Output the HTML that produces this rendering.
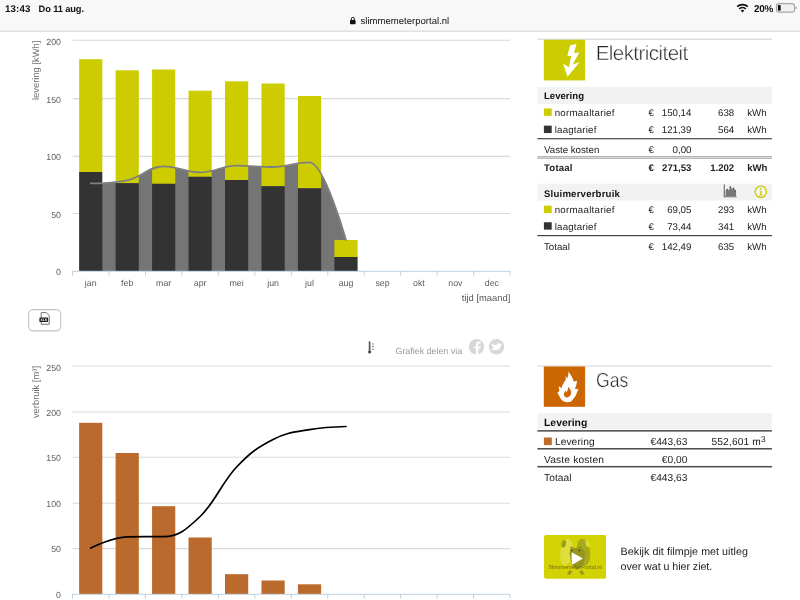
<!DOCTYPE html>
<html lang="nl">
<head>
<meta charset="utf-8">
<title>Slimmemeterportal</title>
<style>
html,body{margin:0;padding:0;background:#fff;}
body{width:800px;height:600px;overflow:hidden;position:relative;font-family:"Liberation Sans",sans-serif;text-rendering:geometricPrecision;}
.t{position:absolute;white-space:nowrap;}
.lt{-webkit-text-stroke:0.45px #fff;}
.b{position:absolute;}
.chart{position:absolute;overflow:hidden;font-family:"Liberation Sans",sans-serif;}
.t sup{font-size:82%;line-height:0;vertical-align:baseline;position:relative;top:-0.36em;letter-spacing:0;}
</style>
</head>
<body>
<svg class="chart" style="left:0;top:0" width="800" height="600" viewBox="0 0 800 600">
<rect x="0" y="0" width="800" height="30.4" fill="#f8f8f8"/>
<rect x="0" y="30.4" width="800" height="1.5" fill="#e0e0e0"/>
<rect x="28.55" y="309.65" width="32.2" height="21.2" fill="#fff" rx="4.6" stroke="#c4c4c4" stroke-width="1.1"/>
<rect x="537.4" y="38.7" width="234.5" height="1.1" fill="#d4d4d4"/>
<rect x="543.8" y="39.8" width="41.3" height="40.6" fill="#cbcb00"/>
<rect x="537.4" y="87" width="234.5" height="16.8" fill="#f2f2f2"/>
<rect x="543.9" y="108.45" width="7.8" height="7.4" fill="#cccc00"/>
<rect x="543.9" y="125.65" width="7.8" height="7.4" fill="#333"/>
<rect x="537.4" y="138.1" width="234.5" height="1.2" fill="#444"/>
<rect x="537.4" y="156" width="234.5" height="2.9" fill="#b2b2b2"/>
<rect x="537.4" y="157.05" width="234.5" height="0.85" fill="#e0e0e0"/>
<rect x="537.4" y="183.7" width="234.5" height="16.8" fill="#f2f2f2"/>
<rect x="543.9" y="205.65" width="7.8" height="7.4" fill="#cccc00"/>
<rect x="543.9" y="222.25" width="7.8" height="7.4" fill="#333"/>
<rect x="537.4" y="235" width="234.5" height="1.2" fill="#444"/>
<rect x="537.4" y="365.35" width="234.5" height="1.3" fill="#dedede"/>
<rect x="543.8" y="366.5" width="41.3" height="40.3" fill="#cc6600"/>
<rect x="537.4" y="413.3" width="234.5" height="15.9" fill="#f2f2f2"/>
<rect x="537.4" y="430.1" width="234.5" height="1.5" fill="#4a4a4a"/>
<rect x="543.9" y="437.5" width="7.9" height="7.6" fill="#bf6b2e"/>
<rect x="537.4" y="448.05" width="234.5" height="1.5" fill="#4a4a4a"/>
<rect x="537.4" y="465.95" width="234.5" height="1.5" fill="#4a4a4a"/>
</svg>
<header aria-label="Statusbalk">
<span class="t" style="top:3px;font-size:9.7px;line-height:13px;color:#111;font-weight:700;left:4.90px;letter-spacing:0.2px;">13:43</span>
<span class="t" style="top:3px;font-size:9.3px;line-height:13px;color:#111;font-weight:700;left:38.60px;letter-spacing:-0.12px;">Do 11 aug.</span>
<span class="t" style="top:15px;font-size:9.5px;line-height:13px;color:#111;left:360.50px;letter-spacing:0.03px;">slimmemeterportal.nl</span>
<svg class="chart" style="left:349px;top:16px" width="8" height="9" viewBox="0 0 8 9"><rect x="1" y="4" width="5.6" height="4.3" rx="0.8" fill="#111"/><path d="M2.3 4.2V2.9a1.5 1.5 0 0 1 3 0V4.2" fill="none" stroke="#111" stroke-width="1"/></svg>
<svg class="chart" style="left:736px;top:3px" width="13" height="10" viewBox="0 0 13 10"><g fill="none" stroke="#111" stroke-width="1.750" stroke-linecap="butt"><path d="M1.200 3.700a7.600 7.600 0 0 1 10.600 0"/><path d="M3.200 5.900a4.700 4.700 0 0 1 6.600 0"/></g><path d="M6.500 9.500L4.700 7.600a2.600 2.600 0 0 1 3.600 0z" fill="#111"/></svg>
<span class="t" style="top:3px;font-size:9.9px;line-height:13px;color:#111;font-weight:700;left:754.00px;letter-spacing:-0.25px;">20%</span>
<svg class="chart" style="left:775px;top:2px" width="23" height="13" viewBox="0 0 23 13"><rect x="1.400" y="1.650" width="18.100" height="8.500" rx="2.400" fill="#f1f1f1" stroke="#a6a6a6" stroke-width="1.100"/><path d="M20.400 4.300v3.200c1.900-.4 1.900-2.800 0-3.200z" fill="#a6a6a6"/><rect x="2.900" y="3.100" width="2.800" height="5.600" rx="0.900" fill="#111"/></svg>
</header>
<main>
<section aria-label="Grafiek elektriciteit">
<svg class="chart" style="left:0;top:0" width="530" height="306" viewBox="0 0 530 306">
<path d="M72.5 40.30H510.1" stroke="#dadada" stroke-width="1.1"/>
<path d="M72.5 98.60H510.1" stroke="#dadada" stroke-width="1.1"/>
<path d="M72.5 156.40H510.1" stroke="#dadada" stroke-width="1.1"/>
<path d="M72.5 213.55H510.1" stroke="#dadada" stroke-width="1.1"/>
<path d="M90.73 183.40 C90.73 183.40 112.61 183.40 127.20 180.30 C141.79 177.20 149.08 166.30 163.67 166.30 C178.25 166.30 185.55 172.40 200.13 172.40 C214.72 172.40 222.01 165.60 236.60 165.60 C251.19 165.60 258.48 167.00 273.07 167.00 C287.65 167.00 294.95 162.40 309.53 162.40 C324.12 162.40 346.00 240.00 346.00 240.00 L346.00 271.00 L90.73 271.00 Z" fill="#757575"/>
<rect x="79.13" y="59.20" width="23.20" height="112.80" fill="#cccc00"/>
<rect x="79.13" y="172.00" width="23.20" height="99.00" fill="#333333"/>
<rect x="115.60" y="70.30" width="23.20" height="112.90" fill="#cccc00"/>
<rect x="115.60" y="183.20" width="23.20" height="87.80" fill="#333333"/>
<rect x="152.07" y="69.50" width="23.20" height="114.30" fill="#cccc00"/>
<rect x="152.07" y="183.80" width="23.20" height="87.20" fill="#333333"/>
<rect x="188.53" y="90.70" width="23.20" height="86.10" fill="#cccc00"/>
<rect x="188.53" y="176.80" width="23.20" height="94.20" fill="#333333"/>
<rect x="225.00" y="81.30" width="23.20" height="98.70" fill="#cccc00"/>
<rect x="225.00" y="180.00" width="23.20" height="91.00" fill="#333333"/>
<rect x="261.47" y="83.50" width="23.20" height="102.70" fill="#cccc00"/>
<rect x="261.47" y="186.20" width="23.20" height="84.80" fill="#333333"/>
<rect x="297.93" y="96.00" width="23.20" height="92.30" fill="#cccc00"/>
<rect x="297.93" y="188.30" width="23.20" height="82.70" fill="#333333"/>
<rect x="334.40" y="240.00" width="23.20" height="17.00" fill="#cccc00"/>
<rect x="334.40" y="257.00" width="23.20" height="14.00" fill="#333333"/>
<path d="M90.73 183.40 C90.73 183.40 112.61 183.40 127.20 180.30 C141.79 177.20 149.08 166.30 163.67 166.30 C178.25 166.30 185.55 172.40 200.13 172.40 C214.72 172.40 222.01 165.60 236.60 165.60 C251.19 165.60 258.48 167.00 273.07 167.00 C287.65 167.00 294.95 162.40 309.53 162.40 C324.12 162.40 346.00 240.00 346.00 240.00" fill="none" stroke="#808080" stroke-width="1.800" stroke-linecap="round"/>
<path d="M72.5 271.30H510.1" stroke="#c0d0e0" stroke-width="1"/>
<path d="M72.50 271.00v4.6M108.97 271.00v4.6M145.43 271.00v4.6M181.90 271.00v4.6M218.37 271.00v4.6M254.83 271.00v4.6M291.30 271.00v4.6M327.77 271.00v4.6M364.23 271.00v4.6M400.70 271.00v4.6M437.17 271.00v4.6M473.63 271.00v4.6M510.10 271.00v4.6" stroke="#c0d0e0" stroke-width="1" fill="none"/>
<g font-size="8.8" fill="#5c5c5c" text-anchor="middle">
<text x="90.73" y="285.6">jan</text>
<text x="127.20" y="285.6">feb</text>
<text x="163.67" y="285.6">mar</text>
<text x="200.13" y="285.6">apr</text>
<text x="236.60" y="285.6">mei</text>
<text x="273.07" y="285.6">jun</text>
<text x="309.53" y="285.6">jul</text>
<text x="346.00" y="285.6">aug</text>
<text x="382.47" y="285.6">sep</text>
<text x="418.93" y="285.6">okt</text>
<text x="455.40" y="285.6">nov</text>
<text x="491.87" y="285.6">dec</text>
</g>
<g font-size="8.8" fill="#5c5c5c" text-anchor="end">
<text x="61" y="45">200</text>
<text x="61" y="103">150</text>
<text x="61" y="160">100</text>
<text x="61" y="218">50</text>
<text x="61" y="275">0</text>
</g>
<text x="510.3" y="301" font-size="9.4" fill="#555" text-anchor="end">tijd [maand]</text>
<text transform="translate(39 40.6) rotate(-90)" font-size="9.4" fill="#707070" text-anchor="end">levering [kWh]</text>
</svg>
</section>
<nav aria-label="Grafiek opties">
<svg class="chart" style="left:38px;top:311px" width="14" height="16" viewBox="0 0 14 16"><path d="M3.2 1.6h5.2l2.8 2.8v8.900H3.2z" fill="#fff" stroke="#666" stroke-width="0.9" stroke-linejoin="round"/><rect x="1.400" y="6.400" width="8.700" height="4.700" rx="0.6" fill="#222"/><text x="5.750" y="10" font-size="3.400" font-weight="700" fill="#fff" text-anchor="middle">XLS</text></svg>
<svg class="chart" style="left:366px;top:340px" width="10" height="16" viewBox="0 0 10 16"><path d="M3.6 1.400v10" stroke="#555" stroke-width="1.700"/><circle cx="3.6" cy="12" r="1.600" fill="#4a4a4a"/><path d="M6 4h2M6 6.500h2M6 9.200h2" stroke="#888" stroke-width="1"/></svg>
<span class="t" style="top:345px;font-size:8.9px;line-height:12px;color:#999;left:395.50px;letter-spacing:0;">Grafiek delen via</span>
<svg class="chart" style="left:468px;top:338px" width="40" height="18" viewBox="0 0 40 18"><circle cx="8.500" cy="8.700" r="7.700" fill="#d8d8d8"/><path d="M8.100 16.400V10.400H6.300V8.600H8.100V6.600a3.100 3.100 0 0 1 3.100-3.100h1.500v1.900h-1.100a1.300 1.300 0 0 0-1.300 1.300V8.600h2.400l-.3 1.800H10.300v6z" fill="#fff"/><circle cx="28.500" cy="8.700" r="7.700" fill="#d8d8d8"/><path transform="translate(28.500 9) scale(1.380 1.050) translate(-28.500 -9)" d="M24.400 11.400c2.900 1.600 7.300.4 7.600-4.300l.9-1-1.100.2c-.8-1.500-3.300-1-3.200.9-1.400 0-2.500-.6-3.400-1.600-.5 1.100 0 1.900.6 2.400l-.8-.1c.1.900.7 1.500 1.600 1.800-.6 1-1.400 1.500-2.200 1.700z" fill="#fff"/></svg>
</nav>
<section aria-label="Grafiek gas">
<svg class="chart" style="left:0;top:340px" width="530" height="260" viewBox="0 340 530 260">
<path d="M72.5 366.00H510.1" stroke="#dadada" stroke-width="1.1"/>
<path d="M72.5 412.00H510.1" stroke="#dadada" stroke-width="1.1"/>
<path d="M72.5 457.30H510.1" stroke="#dadada" stroke-width="1.1"/>
<path d="M72.5 503.20H510.1" stroke="#dadada" stroke-width="1.1"/>
<path d="M72.5 548.60H510.1" stroke="#dadada" stroke-width="1.1"/>
<rect x="79.13" y="422.80" width="23.20" height="171.20" fill="#ba6a2c"/>
<rect x="115.60" y="453.00" width="23.20" height="141.00" fill="#ba6a2c"/>
<rect x="152.07" y="506.20" width="23.20" height="87.80" fill="#ba6a2c"/>
<rect x="188.53" y="537.50" width="23.20" height="56.50" fill="#ba6a2c"/>
<rect x="225.00" y="574.20" width="23.20" height="19.80" fill="#ba6a2c"/>
<rect x="261.47" y="580.50" width="23.20" height="13.50" fill="#ba6a2c"/>
<rect x="297.93" y="584.30" width="23.20" height="9.70" fill="#ba6a2c"/>
<path d="M72.5 594.30H510.1" stroke="#c0d0e0" stroke-width="1"/>
<path d="M72.50 594.00v4.6M108.97 594.00v4.6M145.43 594.00v4.6M181.90 594.00v4.6M218.37 594.00v4.6M254.83 594.00v4.6M291.30 594.00v4.6M327.77 594.00v4.6M364.23 594.00v4.6M400.70 594.00v4.6M437.17 594.00v4.6M473.63 594.00v4.6M510.10 594.00v4.6" stroke="#c0d0e0" stroke-width="1" fill="none"/>
<path d="M90.73 548.00 C90.73 548.00 112.61 537.00 127.20 536.80 C141.79 536.60 149.08 536.80 163.67 536.60 C178.25 536.40 185.55 530.42 200.13 516.50 C214.72 502.58 222.01 482.40 236.60 467.00 C251.19 451.60 258.48 446.98 273.07 439.50 C287.65 432.02 294.95 432.20 309.53 429.60 C324.12 427.00 346.00 426.50 346.00 426.50" fill="none" stroke="#000" stroke-width="1.700" stroke-linecap="round"/>
<g font-size="8.8" fill="#5c5c5c" text-anchor="end">
<text x="61" y="371">250</text>
<text x="61" y="416">200</text>
<text x="61" y="461">150</text>
<text x="61" y="507">100</text>
<text x="61" y="552">50</text>
<text x="61" y="598">0</text>
</g>
<text transform="translate(39 366) rotate(-90)" font-size="9.4" fill="#707070" text-anchor="end">verbruik [m³]</text>
</svg>
</section>
<section aria-label="Elektriciteit">
<svg class="chart" style="left:543.8px;top:39.8px" width="41.3" height="40.6" viewBox="0 0 41.3 40.6"><path d="M26.250 5.200L32.500 3.900 30 13.100 35.400 12.500 28.600 24.400 35.800 22 23.500 36.800 19 23.500 24.900 27.200 27.100 16 23.300 15.800z" fill="#fff"/></svg>
<span class="t lt" style="top:40px;font-size:20.5px;line-height:27px;color:#262626;left:595.70px;letter-spacing:-0.55px;">Elektriciteit</span>
<span class="t" style="top:90px;font-size:9.6px;line-height:13px;color:#111;font-weight:700;left:544.00px;">Levering</span>
<span class="t" style="top:107px;font-size:9.7px;line-height:13px;color:#222;left:554.70px;letter-spacing:0.27px;">normaaltarief</span>
<span class="t" style="top:107px;font-size:9.7px;line-height:13px;color:#222;left:648.60px;">€</span>
<span class="t" style="top:107px;font-size:9.7px;line-height:13px;color:#222;right:108.60px;">150,14</span>
<span class="t" style="top:107px;font-size:9.7px;line-height:13px;color:#222;right:65.80px;">638</span>
<span class="t" style="top:107px;font-size:9.7px;line-height:13px;color:#222;left:747.20px;">kWh</span>
<span class="t" style="top:124px;font-size:9.7px;line-height:13px;color:#222;left:554.70px;letter-spacing:0.2px;">laagtarief</span>
<span class="t" style="top:124px;font-size:9.7px;line-height:13px;color:#222;left:648.60px;">€</span>
<span class="t" style="top:124px;font-size:9.7px;line-height:13px;color:#222;right:108.60px;">121,39</span>
<span class="t" style="top:124px;font-size:9.7px;line-height:13px;color:#222;right:65.80px;">564</span>
<span class="t" style="top:124px;font-size:9.7px;line-height:13px;color:#222;left:747.20px;">kWh</span>
<span class="t" style="top:144px;font-size:9.7px;line-height:13px;color:#222;left:544.00px;">Vaste kosten</span>
<span class="t" style="top:144px;font-size:9.7px;line-height:13px;color:#222;left:648.60px;">€</span>
<span class="t" style="top:144px;font-size:9.7px;line-height:13px;color:#222;right:108.60px;">0,00</span>
<span class="t" style="top:162px;font-size:9.6px;line-height:13px;color:#222;font-weight:700;left:544.00px;letter-spacing:0.2px;">Totaal</span>
<span class="t" style="top:162px;font-size:9.6px;line-height:13px;color:#222;font-weight:700;left:648.60px;">€</span>
<span class="t" style="top:162px;font-size:9.6px;line-height:13px;color:#222;font-weight:700;right:108.60px;">271,53</span>
<span class="t" style="top:162px;font-size:9.6px;line-height:13px;color:#222;font-weight:700;right:65.80px;">1.202</span>
<span class="t" style="top:162px;font-size:9.6px;line-height:13px;color:#222;font-weight:700;left:747.20px;">kWh</span>
<span class="t" style="top:188px;font-size:9.6px;line-height:13px;color:#111;font-weight:700;left:544.00px;letter-spacing:0.2px;">Sluimerverbruik</span>
<svg class="chart" style="left:723px;top:184px" width="15" height="14" viewBox="0 0 15 14"><path d="M1.300 .6v12.100h12.300" fill="none" stroke="#666" stroke-width="1.100"/><path d="M2.600 12V7.200l1.600-2.600 1.600 2 1.500-4.600 1.800 3.400 1.400-2 1.500 2.400 1.100 1.400V12z" fill="#777"/><path d="M3.400 5.200h1.400v1.400H3.400zM6.600 2.200h1.500v1.500H6.600zM9.700 3.800h1.400v1.400H9.700zM11.700 6.200h1.200v1.200h-1.200z" fill="#555"/></svg>
<svg class="chart" style="left:753px;top:184px" width="16" height="16" viewBox="0 0 16 16"><circle cx="7.800" cy="7.800" r="5.700" fill="none" stroke="#cccc00" stroke-width="1.300"/><circle cx="7.800" cy="4.900" r="0.950" fill="#cccc00"/><path d="M6.800 6.700h1.700v3.900h.8v.8H6.400v-.8h.8V7.500h-.4z" fill="#cccc00"/></svg>
<span class="t" style="top:204px;font-size:9.7px;line-height:13px;color:#222;left:554.70px;letter-spacing:0.27px;">normaaltarief</span>
<span class="t" style="top:204px;font-size:9.7px;line-height:13px;color:#222;left:648.60px;">€</span>
<span class="t" style="top:204px;font-size:9.7px;line-height:13px;color:#222;right:108.60px;">69,05</span>
<span class="t" style="top:204px;font-size:9.7px;line-height:13px;color:#222;right:65.80px;">293</span>
<span class="t" style="top:204px;font-size:9.7px;line-height:13px;color:#222;left:747.20px;">kWh</span>
<span class="t" style="top:221px;font-size:9.7px;line-height:13px;color:#222;left:554.70px;letter-spacing:0.2px;">laagtarief</span>
<span class="t" style="top:221px;font-size:9.7px;line-height:13px;color:#222;left:648.60px;">€</span>
<span class="t" style="top:221px;font-size:9.7px;line-height:13px;color:#222;right:108.60px;">73,44</span>
<span class="t" style="top:221px;font-size:9.7px;line-height:13px;color:#222;right:65.80px;">341</span>
<span class="t" style="top:221px;font-size:9.7px;line-height:13px;color:#222;left:747.20px;">kWh</span>
<span class="t" style="top:241px;font-size:9.7px;line-height:13px;color:#222;left:544.00px;">Totaal</span>
<span class="t" style="top:241px;font-size:9.7px;line-height:13px;color:#222;left:648.60px;">€</span>
<span class="t" style="top:241px;font-size:9.7px;line-height:13px;color:#222;right:108.60px;">142,49</span>
<span class="t" style="top:241px;font-size:9.7px;line-height:13px;color:#222;right:65.80px;">635</span>
<span class="t" style="top:241px;font-size:9.7px;line-height:13px;color:#222;left:747.20px;">kWh</span>
</section>
<section aria-label="Gas">
<svg class="chart" style="left:543.8px;top:366.5px" width="41.3" height="40.3" viewBox="0 0 41.3 40.3"><path d="M24.600 4.200C25.400 6.200 26.600 7.600 27.500 9.300 28.500 11 29.200 12.600 29.600 14.300 30.800 14.400 32 14.200 32.900 13.500 33 15.200 32.700 16.900 32.100 18.500 31.800 19.700 31.400 20.800 30.800 21.800 32 22.200 33.200 22.200 34.300 21.800 34 23.600 33.400 25.300 32.500 26.800 31.900 28.300 31.100 29.700 30 31 29.100 32.500 28 33.800 26.700 34.750 25.100 35.300 23.400 35.400 21.700 35 20.100 34.600 18.700 33.800 17.500 32.700 16.400 31.500 15.600 30.100 15 28.500 14.300 27.600 13.800 26.600 13.500 25.600 14.300 25 14.900 24.300 15.400 23.500 15 22 14.800 20.400 14.800 18.900 15.600 19.800 16.500 20.500 17.500 21 17.800 19.500 18.400 18.100 19.200 16.800 19.800 15.400 20.700 14.200 21.700 13.100 21.900 11.700 21.800 10.300 21.500 8.900 22.200 9.600 22.800 10.400 23.300 11.400 24.100 9.100 24.600 6.700 24.600 4.200z" fill="#fff"/><path d="M24.200 19.750C25.400 21.100 26.500 22.600 27.100 24.300 27.500 25.800 27.200 27.300 26.250 28.500 25.500 29.600 24.500 30.300 23.300 30.600 22.200 30.600 21.200 30.100 20.400 29.300 19.800 28.400 19.700 27.400 20 26.400 20.400 25.300 21 24.300 21.700 23.500 21.800 24.200 22 24.900 22.300 25.600 22.900 24.800 23.400 24 23.750 23.100 24 22 24.200 20.900 24.200 19.750z" fill="#cc6600"/></svg>
<span class="t lt" style="top:367px;font-size:20.5px;line-height:27px;color:#262626;left:596.30px;transform:scaleX(0.86);transform-origin:0 50%;">Gas</span>
<span class="t" style="top:417px;font-size:10.4px;line-height:14px;color:#111;font-weight:700;left:544.00px;">Levering</span>
<span class="t" style="top:436px;font-size:10.2px;line-height:14px;color:#222;left:554.90px;letter-spacing:0.1px;">Levering</span>
<span class="t" style="top:436px;font-size:10.2px;line-height:14px;color:#222;right:112.70px;">€443,63</span>
<span class="t" style="top:436px;font-size:10.2px;line-height:14px;color:#222;right:34.40px;letter-spacing:0.15px;">552,601 m<sup>3</sup></span>
<span class="t" style="top:454px;font-size:10.2px;line-height:14px;color:#222;left:544.00px;letter-spacing:0.17px;">Vaste kosten</span>
<span class="t" style="top:454px;font-size:10.2px;line-height:14px;color:#222;right:112.70px;">€0,00</span>
<span class="t" style="top:472px;font-size:10.2px;line-height:14px;color:#222;left:544.00px;letter-spacing:0.08px;">Totaal</span>
<span class="t" style="top:472px;font-size:10.2px;line-height:14px;color:#222;right:112.70px;">€443,63</span>
</section>
<aside aria-label="Uitleg">
<svg class="chart" style="left:543.8px;top:535px" width="62.3" height="43.8" viewBox="0 0 62.3 43.8"><rect width="62.3" height="43.8" rx="2.200" fill="#d2d205"/><ellipse cx="22.500" cy="17" rx="6.300" ry="13.500" transform="rotate(8 22.500 17)" fill="#dede3c"/><ellipse cx="39.500" cy="17" rx="6.600" ry="13.500" transform="rotate(-8 39.500 17)" fill="#a9a91c"/><path d="M27 11c3 3 6 3 9.500 0l5 6-2 13-6 5-6-5-2-12z" fill="#96961e"/><ellipse cx="19.800" cy="8.800" rx="2.200" ry="3.800" transform="rotate(14 19.800 8.800)" fill="#9c9c22"/><ellipse cx="43.600" cy="8.600" rx="2" ry="3.600" transform="rotate(-14 43.600 8.600)" fill="#dcdc30"/><path d="M23 39l2.500-4 3 1.500-2.500 3.500zM40.500 39l-2.500-4-3 1.500 2.500 3.500z" fill="#9a9a22"/><circle cx="27.700" cy="15.500" r="0.800" fill="#333"/><circle cx="35.500" cy="15.500" r="0.800" fill="#333"/><text x="31.100" y="34" font-size="5.600" fill="#6e6e12" text-anchor="middle">SlimmemeterPortal.nl</text><path d="M27.700 17.200v12.800l11.300-6.400z" fill="#fff"/></svg>
<span class="t" style="top:545px;font-size:10.7px;line-height:14px;color:#222;left:620.60px;letter-spacing:0.05px;">Bekijk dit filmpje met uitleg</span>
<span class="t" style="top:560px;font-size:10.7px;line-height:14px;color:#222;left:620.60px;letter-spacing:-0.05px;">over wat u hier ziet.</span>
</aside>
</main>
</body>
</html>
